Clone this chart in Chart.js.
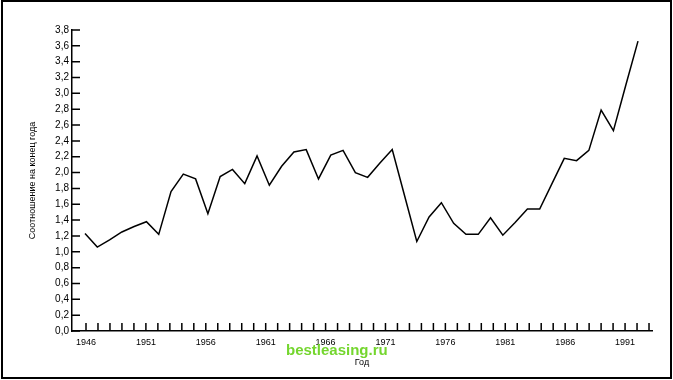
<!DOCTYPE html>
<html>
<head>
<meta charset="utf-8">
<script src="https://cdn.jsdelivr.net/npm/chart.js@4.4.1/dist/chart.umd.min.js"></script>
<style>
  html, body { margin: 0; padding: 0; background: #fff; }
  #wrap { position: relative; width: 673px; height: 380px; overflow: hidden; }
  canvas { position: absolute; left: 0; top: 0; }
  #frame { position: absolute; left: 1px; top: 0; width: 671px; height: 379px; box-sizing: border-box; border: 2px solid #000; pointer-events: none; }
  #wm { position: absolute; left: 286px; top: 341px; font: bold 15px "Liberation Sans", Arial, sans-serif; color: #74d62e; white-space: nowrap; }
</style>
</head>
<body>
<div id="wrap">
  <canvas id="c" width="673" height="380"></canvas>
  <div id="frame"></div>
  <div id="wm">bestleasing.ru</div>
</div>
<script>
// ---- data ----
const years = [1946,1947,1948,1949,1950,1951,1952,1953,1954,1955,
               1956,1957,1958,1959,1960,1961,1962,1963,1964,1965,
               1966,1967,1968,1969,1970,1971,1972,1973,1974,1975,
               1976,1977,1978,1979,1980,1981,1982,1983,1984,1985,
               1986,1987,1988,1989,1990,1991];
const ratio = [1.23,1.06,1.15,1.25,1.32,1.38,1.22,1.76,1.98,1.92,
               1.48,1.95,2.04,1.86,2.21,1.84,2.08,2.26,2.29,1.92,
               2.22,2.28,2.00,1.94,2.12,2.29,1.71,1.13,1.44,1.62,
               1.36,1.22,1.22,1.43,1.21,1.37,1.54,1.54,1.86,2.18,
               2.15,2.28,2.79,2.53,3.10,3.66];
const xTickLabels = ['1946','1951','1956','1961','1966','1971','1976','1981','1986','1991'];
const yTickLabels = ['0,0','0,2','0,4','0,6','0,8','1,0','1,2','1,4','1,6','1,8',
                     '2,0','2,2','2,4','2,6','2,8','3,0','3,2','3,4','3,6','3,8'];
const yTitle = 'Соотношение на конец года';
const xTitle = 'Год';

const FONT = { family: '"Liberation Sans", Arial, sans-serif', size: 9 };
const YFONT = { family: '"Liberation Sans", Arial, sans-serif', size: 10 };

const innerTicks = {
  id: 'innerTicks',
  afterDraw(chart) {
    const ctx = chart.ctx;
    const ys = chart.scales.y, xs = chart.scales.x2;
    ctx.save();
    ctx.strokeStyle = '#000';
    ctx.lineWidth = 1.5;
    ctx.beginPath();
    ys.ticks.forEach(t => {
      const py = ys.getPixelForValue(t.value);
      ctx.moveTo(ys.right, py);
      ctx.lineTo(ys.right + 8, py);
    });
    xs.ticks.forEach(t => {
      if (t.value < 1946) return;
      const px = xs.getPixelForValue(t.value);
      ctx.moveTo(px, xs.top);
      ctx.lineTo(px, xs.top - 8);
    });
    ctx.stroke();
    ctx.restore();
  }
};

new Chart(document.getElementById('c'), {
  type: 'line',
  data: {
    datasets: [{
      data: years.map((y, i) => ({ x: y, y: ratio[i] })),
      borderColor: '#000',
      borderWidth: 1.5,
      pointRadius: 0,
      tension: 0,
      fill: false,
      xAxisID: 'x',
      yAxisID: 'y'
    }]
  },
  options: {
    responsive: false,
    animation: false,
    events: [],
    layout: { padding: { top: 30, right: 21, bottom: 0, left: 0 } },
    plugins: { legend: { display: false }, tooltip: { enabled: false } },
    scales: {
      x: {
        type: 'linear', display: false,
        min: 1944.942, max: 1992.139
      },
      x2: {
        type: 'linear', position: 'bottom',
        min: 1944.831, max: 1993.249,
        afterFit(s) { s.height = 49; },
        grid: { drawOnChartArea: false, drawTicks: false },
        border: { display: true, color: '#000', width: 1.5 },
        ticks: {
          stepSize: 1, autoSkip: false, includeBounds: false, maxRotation: 0,
          padding: 6, color: '#000', font: FONT,
          callback: (v) => xTickLabels.includes(String(v)) ? String(v) : ''
        },
        title: { display: true, text: xTitle, color: '#000', font: FONT, padding: { top: 0, bottom: 12 } }
      },
      y: {
        type: 'linear', position: 'left',
        min: 0, max: 3.8,
        afterFit(s) { s.width = 72; },
        grid: { drawOnChartArea: false, drawTicks: false },
        border: { display: true, color: '#000', width: 1.5 },
        ticks: {
          stepSize: 0.2, autoSkip: false, padding: 3, color: '#000', font: YFONT,
          callback: (v, i) => yTickLabels[i]
        },
        title: { display: true, text: yTitle, color: '#000', font: FONT, padding: { top: 27, bottom: 0 } }
      }
    }
  },
  plugins: [innerTicks]
});
</script>
</body>
</html>
